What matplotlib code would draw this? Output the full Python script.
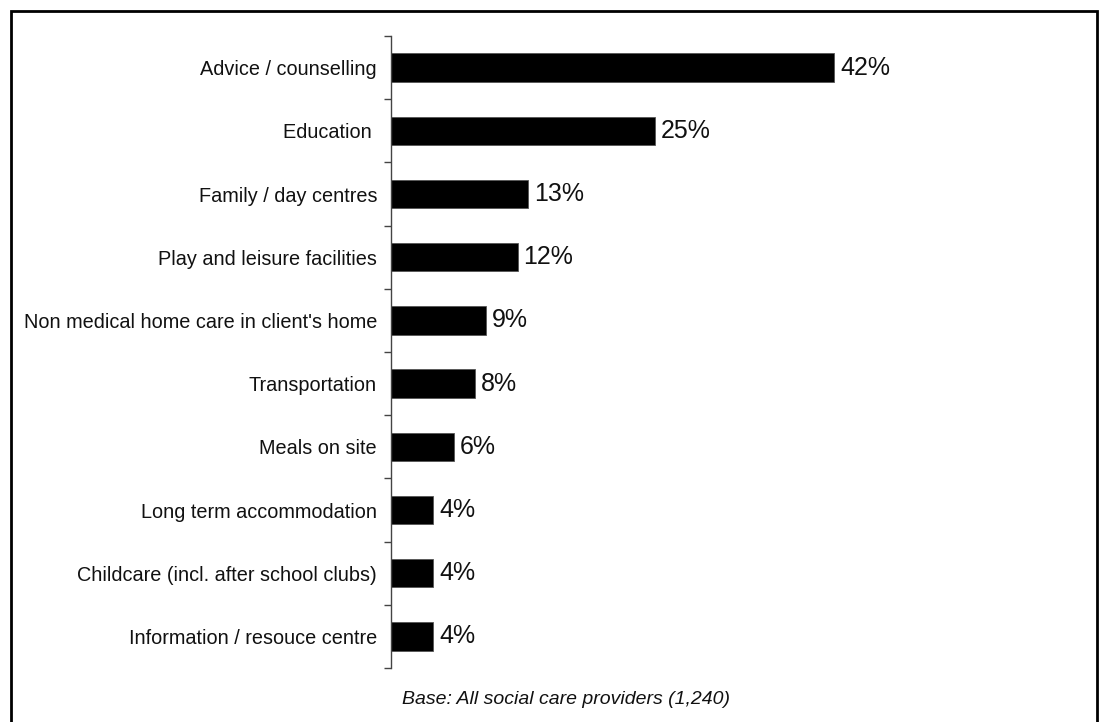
import numpy as np
import matplotlib.pyplot as plt
from matplotlib.patches import Rectangle

plt.rcParams['font.family'] = ['Liberation Sans', 'DejaVu Sans']

services = [
    'Advice / counselling',
    'Education ',
    'Family / day centres',
    'Play and leisure facilities',
    "Non medical home care in client's home",
    'Transportation',
    'Meals on site',
    'Long term accommodation',
    'Childcare (incl. after school clubs)',
    'Information / resouce centre',
]
share_pct = [42, 25, 13, 12, 9, 8, 6, 4, 4, 4]
footnote = 'Base: All social care providers (1,240)'

W, H = 1099, 722
fig = plt.figure(figsize=(W / 100, H / 100), dpi=100)
ax = fig.add_axes([391 / W, 54 / H, (1060 - 391) / W, (668 - 36) / H])

n = len(services)
y = np.arange(n)
ax.barh(y, share_pct, height=0.45, color='black', edgecolor='#555555', linewidth=0.6)
ax.set_ylim(n - 0.5, -0.5)
ax.set_xlim(0, 669 / 10.55)

for yi, v in zip(y, share_pct):
    ax.text(v + 0.55, yi, f'{v}%', va='center', ha='left', fontsize=18, color='#111111')

# labels at bar centres, tick marks on the category boundaries
ax.set_yticks(y)
ax.set_yticklabels(services, fontsize=14.3, color='#111111')
ax.tick_params(axis='y', which='major', length=0, pad=10)
ax.set_yticks(np.arange(n + 1) - 0.5, minor=True)
ax.tick_params(axis='y', which='minor', length=5, width=1, color='#444444', direction='out')

ax.set_xticks([])
for side in ['top', 'right', 'bottom']:
    ax.spines[side].set_visible(False)
ax.spines['left'].set_color('#444444')
ax.spines['left'].set_linewidth(1)

fig.text(566 / W, 1 - 700 / H, footnote, ha='center', va='center',
         fontsize=14, style='italic', color='#111111')

# outer frame, open at the bottom edge
fig.patches.append(Rectangle((10.5 / W, -0.05), (1097 - 10.5) / W, 1.05 - 10.5 / H,
                             transform=fig.transFigure, fill=False,
                             edgecolor='black', linewidth=2))

fig.savefig('out.png', dpi=100)
